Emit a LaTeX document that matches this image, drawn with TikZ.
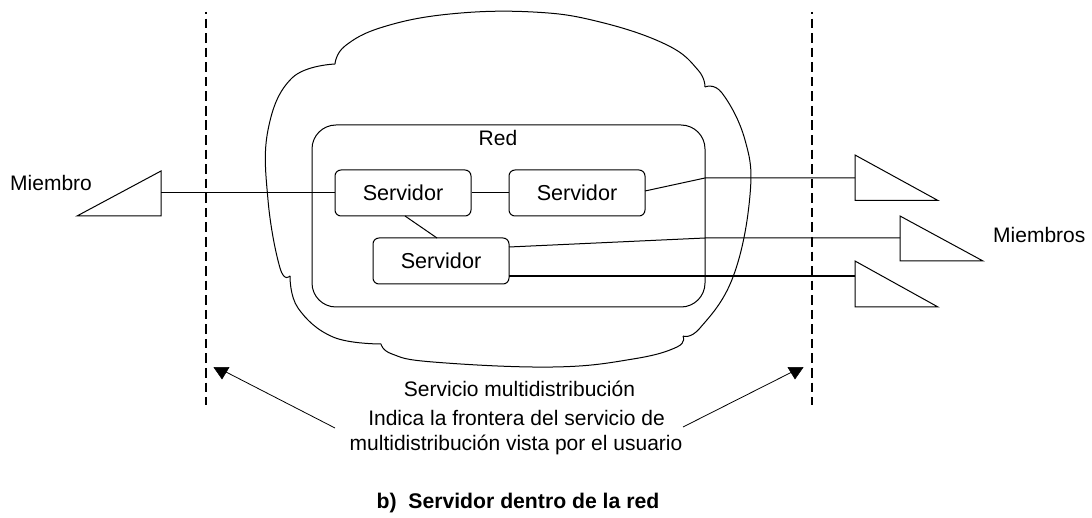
\documentclass[tikz,border=0pt]{standalone}
\usepackage{fontspec}
\setmainfont{Liberation Sans}
\usetikzlibrary{arrows.meta}
\tikzset{
  x=1pt,y=-1pt,
  servbox/.style={draw,rounded corners=6pt,minimum width=136pt,minimum height=46pt,inner sep=0pt,line width=1pt,font=\fontsize{21.6}{25}\selectfont},
  lbl/.style={inner sep=0pt,anchor=base,font=\fontsize{21}{25}\selectfont,align=center},
  boldlbl/.style={inner sep=0pt,anchor=base,font=\fontsize{21.2}{25}\selectfont\bfseries},
  wire/.style={line width=1pt},
  thickwire/.style={line width=1.6pt},
  frontier/.style={line width=1.4pt,dash pattern=on 9.6pt off 4.96pt,dash phase=8pt},
  member/.style={line width=1pt,line join=miter},
  tip/.style={fill=black,draw=black,line width=0.5pt},
  pointer/.style={line width=0.8pt},
  lobe/.style={line width=1pt,smooth,tension=0.7}
}
\begin{document}
\begin{tikzpicture}
\useasboundingbox (0,0) rectangle (1092,518);
% cloud
\draw[lobe] plot coordinates {(335,64) (345,46) (383,27) (450,14) (533,12) (600,22) (667,45) (698,70) (705,87)};
\draw[lobe] plot coordinates {(705,87) (722,93) (745,140) (750,195) (733,277) (700,328) (683,336)};
\draw[lobe] plot coordinates {(683,336) (677,347) (633,359) (553,367) (433,362) (392,354) (381,344)};
\draw[lobe] plot coordinates {(381,344) (333,337) (298,308) (290,276)};
\draw[lobe] plot coordinates {(290,276) (280,268) (268,200) (268,130) (292,78) (335,64)};
% network
\node[draw,rounded corners=24pt,line width=1pt,minimum width=393pt,minimum height=182pt,inner sep=0pt] (red) at (508.5,216) {};
\node[lbl] (redlbl) at (498,146) {Red};
% servers
\node[servbox] (s1) at (403,193) {Servidor};
\node[servbox] (s2) at (577,193) {Servidor};
\node[servbox] (s3) at (441,261) {Servidor};
% members
\coordinate (m0a) at (161,171);
\coordinate (m0b) at (161,216);
\coordinate (m0c) at (77,216);
\coordinate (m0p) at (161,193);
\draw[member] (m0a) -- (m0b) -- (m0c) -- cycle;
\coordinate (m1a) at (855,155);
\coordinate (m1b) at (855,200.5);
\coordinate (m1c) at (938,200.5);
\coordinate (m1p) at (855,178);
\draw[member] (m1a) -- (m1b) -- (m1c) -- cycle;
\coordinate (m2a) at (900,216);
\coordinate (m2b) at (900,261);
\coordinate (m2c) at (983,261);
\coordinate (m2p) at (900,238);
\draw[member] (m2a) -- (m2b) -- (m2c) -- cycle;
\coordinate (m3a) at (855,261);
\coordinate (m3b) at (855,307);
\coordinate (m3c) at (938,307);
\coordinate (m3p) at (855,276);
\draw[member] (m3a) -- (m3b) -- (m3c) -- cycle;
% wires
\draw[wire] (m0p) -- (s1.west);
\draw[wire] (s1.east) -- (s2.west);
\coordinate (s1s) at (405,216);
\coordinate (s3n) at (437,238);
\draw[wire] (s1s) -- (s3n);
\coordinate (k1) at (705,178);
\coordinate (k2) at (705,238);
\coordinate (s2e) at (645,191);
\coordinate (s3e) at (509,247);
\coordinate (s3f) at (509,276);
\draw[wire] (s2e) -- (k1) -- (m1p);
\draw[wire] (s3e) -- (k2) -- (m2p);
\draw[thickwire] (s3f) -- (m3p);
% frontiers
\coordinate (fl1) at (206,12);
\coordinate (fl2) at (206,405);
\coordinate (fr1) at (812,12);
\coordinate (fr2) at (812,405);
\draw[frontier] (fl1) -- (fl2);
\draw[frontier] (fr1) -- (fr2);
% pointers
\coordinate (pl) at (335,428);
\coordinate (ple) at (226,372);
\coordinate (pr) at (683,427);
\coordinate (pre) at (792,372);
\draw[pointer] (pl) -- (ple);
\draw[pointer] (pr) -- (pre);
\coordinate (tl1) at (214,367.5);
\coordinate (tl2) at (229,367.5);
\coordinate (tl3) at (222,379);
\draw[tip] (tl1) -- (tl2) -- (tl3) -- cycle;
\coordinate (tr1) at (788,367.5);
\coordinate (tr2) at (803,367.5);
\coordinate (tr3) at (795,379);
\draw[tip] (tr1) -- (tr2) -- (tr3) -- cycle;
% labels
\node[lbl,anchor=base west] (miembro) at (10,191) {Miembro};
\node[lbl,anchor=base west] (miembros) at (993,243) {Miembros};
\node[lbl] (svc) at (519.5,396) {Servicio multidistribución};
\node[lbl] (ind1) at (516.5,425) {Indica la frontera del servicio de};
\node[lbl] (ind2) at (516,450) {multidistribución vista por el usuario};
\node[boldlbl] (cap) at (518,508) {b)\hspace{0.55em}Servidor dentro de la red};
\end{tikzpicture}
\end{document}
